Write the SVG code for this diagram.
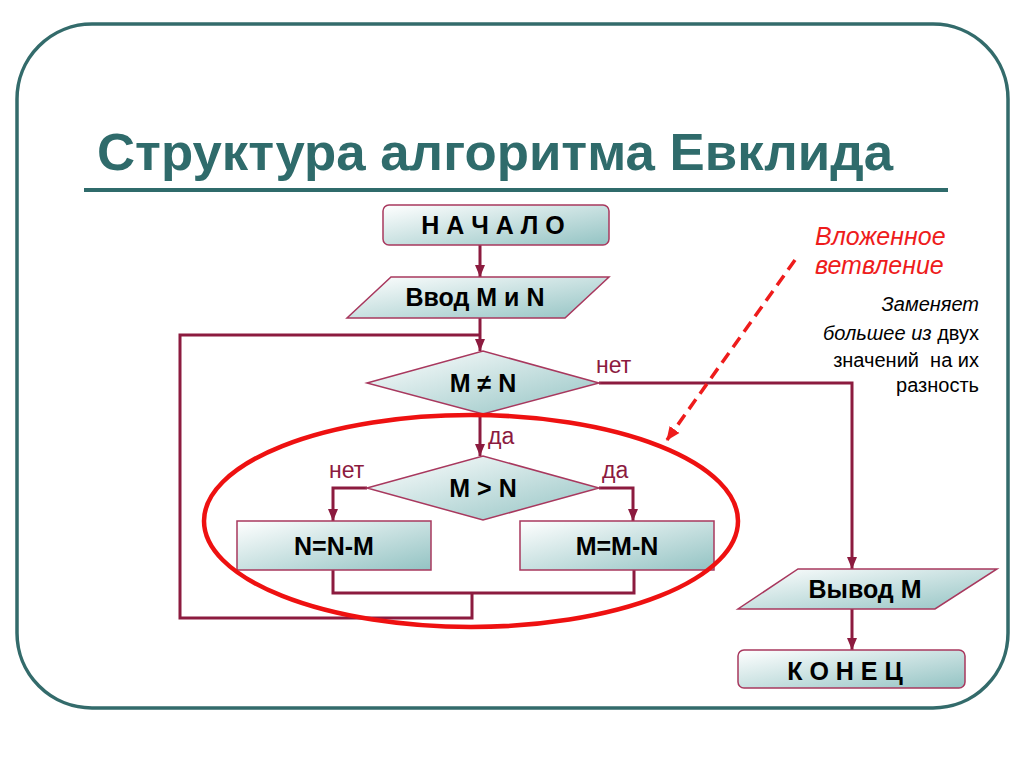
<svg xmlns="http://www.w3.org/2000/svg" width="1024" height="767" viewBox="0 0 1024 767">
<defs>
<linearGradient id="g" x1="0" y1="0" x2="1" y2="1">
<stop offset="0" stop-color="#ffffff"/>
<stop offset="1" stop-color="#93c3c3"/>
</linearGradient>
<marker id="ah" markerUnits="userSpaceOnUse" markerWidth="12" markerHeight="12" viewBox="0 0 12 12" refX="12" refY="6" orient="auto">
<path d="M0,1 L12,6 L0,11 z" fill="#8c1b3f"/>
</marker>
<marker id="ahr" markerUnits="userSpaceOnUse" markerWidth="14" markerHeight="14" viewBox="0 0 14 14" refX="13" refY="7" orient="auto">
<path d="M0,1 L14,7 L0,13 z" fill="#ee1c1c"/>
</marker>
</defs>
<style>
.box{fill:url(#g);stroke:#a8385e;stroke-width:1.5}
.ln{fill:none;stroke:#8c1b3f;stroke-width:3}
.t{font-family:"Liberation Sans",Arial,sans-serif;font-weight:bold;font-size:25px;fill:#000;text-anchor:middle}
.lbl{font-family:"Liberation Sans",Arial,sans-serif;font-size:23px;fill:#8c1b3f}
.note{font-family:"Liberation Sans",Arial,sans-serif;font-size:20px;fill:#000;text-anchor:end;white-space:pre}
.red{font-family:"Liberation Sans",Arial,sans-serif;font-size:25px;font-style:italic;fill:#ee1c1c}
</style>
<rect x="0" y="0" width="1024" height="767" fill="#ffffff"/>
<rect x="17" y="24" width="991" height="684" rx="75" ry="75" fill="#ffffff" stroke="#336b6b" stroke-width="3.5"/>
<g id="title">
<text x="97" y="170" font-family="'Liberation Sans',Arial,sans-serif" font-weight="bold" font-size="52" fill="#2f6b6b" textLength="796" lengthAdjust="spacingAndGlyphs">Структура алгоритма Евклида</text>
<line x1="84" y1="190" x2="948" y2="190" stroke="#2f6b6b" stroke-width="4"/>
</g>
<g id="connectors">
<path class="ln" d="M480,245 V277" marker-end="url(#ah)"/>
<path class="ln" d="M480,318 V351" marker-end="url(#ah)"/>
<path class="ln" d="M599,383 H852 V569" marker-end="url(#ah)"/>
<path class="ln" d="M480,414 V456" marker-end="url(#ah)"/>
<path class="ln" d="M367,488 H333 V521" marker-end="url(#ah)"/>
<path class="ln" d="M599,488 H633 V521" marker-end="url(#ah)"/>
<path class="ln" d="M333,570 V593 H634 V570"/>
<path class="ln" d="M472,593 V618 H180 V335 H480"/>
<path class="ln" d="M852,609 V650" marker-end="url(#ah)"/>
<text class="lbl" x="596" y="373">нет</text>
<text class="lbl" x="488" y="444">да</text>
<text class="lbl" x="329" y="478">нет</text>
<text class="lbl" x="602" y="478">да</text>
</g>
<g id="start">
<rect class="box" x="383" y="205" width="226" height="40" rx="6"/>
<text class="t" x="493" y="234">Н А Ч А Л О</text>
</g>
<g id="input">
<polygon class="box" points="391,277 609,277 565,318 347,318"/>
<text class="t" x="475" y="306">Ввод M и N</text>
</g>
<g id="cond1">
<polygon class="box" points="367,383 483,351 599,383 483,414"/>
<text class="t" x="483" y="392">M ≠ N</text>
</g>
<g id="cond2">
<polygon class="box" points="367,488 483,456 599,488 483,520"/>
<text class="t" x="483" y="497">M &gt; N</text>
</g>
<g id="nbox">
<rect class="box" x="237" y="521" width="194" height="49"/>
<text class="t" x="334" y="555">N=N-M</text>
</g>
<g id="mbox">
<rect class="box" x="520" y="521" width="194" height="49"/>
<text class="t" x="617" y="555">M=M-N</text>
</g>
<g id="output">
<polygon class="box" points="798,569 997,569 935,609 738,609"/>
<text class="t" x="865" y="598">Вывод M</text>
</g>
<g id="end">
<rect class="box" x="738" y="650" width="227" height="38" rx="6"/>
<text class="t" x="845" y="680">К О Н Е Ц</text>
</g>
<g id="highlight">
<ellipse cx="471" cy="521" rx="267" ry="106" fill="none" stroke="#ee1111" stroke-width="4.5"/>
<line x1="795" y1="260" x2="667" y2="440" stroke="#ee1c1c" stroke-width="3.5" stroke-dasharray="12 7" marker-end="url(#ahr)"/>
<text class="red" x="815" y="245">Вложенное</text>
<text class="red" x="815" y="274">ветвление</text>
</g>
<g id="note">
<text class="note" x="979" y="311" font-style="italic">Заменяет</text>
<text class="note" x="979" y="340"><tspan font-style="italic">большее из</tspan> двух</text>
<text class="note" x="979" y="367">значений  на их</text>
<text class="note" x="979" y="392">разность</text>
</g>
</svg>
